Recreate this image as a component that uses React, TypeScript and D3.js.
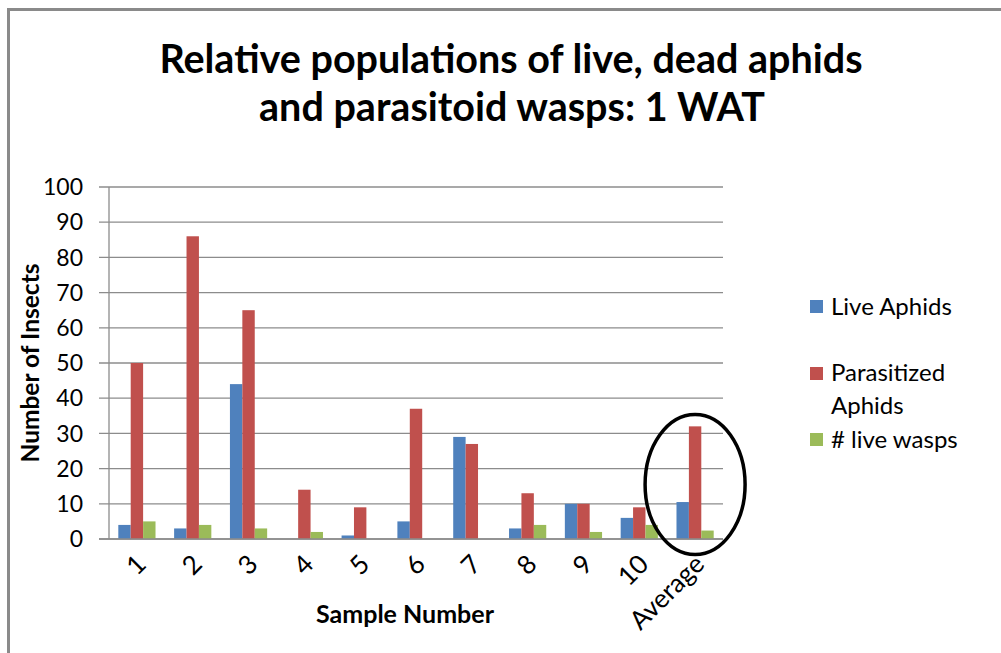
import * as d3 from "d3";

const categories = ["1", "2", "3", "4", "5", "6", "7", "8", "9", "10", "Average"];
const seriesNames = ["Live Aphids", "Parasitized Aphids", "# live wasps"];
const liveAphids = [4, 3, 44, 0, 1, 5, 29, 3, 10, 6, 10.5];
const parasitizedAphids = [50, 86, 65, 14, 9, 37, 27, 13, 10, 9, 32];
const liveWasps = [5, 4, 3, 2, 0, 0, 0, 4, 2, 4, 2.4];
const yTicks = [0, 10, 20, 30, 40, 50, 60, 70, 80, 90, 100];
const colors = ["#4F81BD", "#C0504D", "#9BBB59"];

const W = 1001;
const H = 653;
const font = "Lato, 'Open Sans', sans-serif";

export default function App() {
  const values = [liveAphids, parasitizedAphids, liveWasps];

  const x = d3.scaleBand<string>().domain(categories).range([109, 723]);
  const xs = d3
    .scaleBand<string>()
    .domain(seriesNames)
    .range([0, x.bandwidth()])
    .paddingOuter(0.75);
  const y = d3.scaleLinear().domain([0, 100]).range([539, 187]);

  // highlight ring around the Average group
  const avgX = (x("Average") ?? 0) + x.bandwidth() / 2;
  const avgY = y(15.5);

  return (
    <svg
      width={W}
      height={H}
      style={{ position: "absolute", left: 0, top: 0, background: "#fff" }}
      fontFamily={font}
    >
      <path d={`M8.5,${H} L8.5,9.5 L${W},9.5`} fill="none" stroke="#8a8a8a" strokeWidth={3} />

      <text x={511} y={73} textAnchor="middle" fontSize={39.5} fontWeight="bold" fill="#000">
        Relative populations of live, dead aphids
      </text>
      <text x={512} y={121} textAnchor="middle" fontSize={39.5} fontWeight="bold" fill="#000">
        and parasitoid wasps: 1 WAT
      </text>

      {/* gridlines + y ticks */}
      {yTicks.map((t) => (
        <g key={t}>
          <line x1={99} x2={723} y1={y(t)} y2={y(t)} stroke="#8c8c8c" strokeWidth={1.3} />
          <text x={83} y={y(t)} dy="0.36em" textAnchor="end" fontSize={23} fill="#000">
            {t}
          </text>
        </g>
      ))}
      <line x1={109} x2={109} y1={y(100)} y2={y(0)} stroke="#8c8c8c" strokeWidth={1.3} />

      {/* bars */}
      {categories.map((c, i) => (
        <g key={c} transform={`translate(${x(c)},0)`}>
          {seriesNames.map((s, j) => (
            <rect
              key={s}
              x={xs(s)}
              y={y(values[j][i])}
              width={xs.bandwidth()}
              height={y(0) - y(values[j][i])}
              fill={colors[j]}
            />
          ))}
        </g>
      ))}
      <line x1={99} x2={723} y1={y(0)} y2={y(0)} stroke="#8c8c8c" strokeWidth={1.3} />

      {/* x labels */}
      {categories.map((c) => {
        const cx = (x(c) ?? 0) + x.bandwidth() / 2 - 2;
        return (
          <text
            key={c}
            transform={`translate(${cx},553) rotate(-45)`}
            textAnchor="end"
            dy="0.7em"
            fontSize={26}
            fill="#000"
          >
            {c}
          </text>
        );
      })}

      <text x={405} y={623} textAnchor="middle" fontSize={25} fontWeight="bold" fill="#000">
        Sample Number
      </text>
      <text
        transform="translate(39,363) rotate(-90)"
        textAnchor="middle"
        fontSize={24.5}
        fontWeight="bold"
        fill="#000"
      >
        Number of Insects
      </text>

      <ellipse cx={avgX} cy={avgY} rx={50} ry={70} fill="none" stroke="#000" strokeWidth={3.5} />

      {/* legend */}
      <g fontSize={24} fill="#000">
        <rect x={810} y={300} width={13} height={13} fill={colors[0]} />
        <text x={831} y={306.5} dy="0.35em">Live Aphids</text>
        <rect x={810} y={367} width={13} height={13} fill={colors[1]} />
        <text x={831} y={373} dy="0.35em">Parasitized</text>
        <text x={831} y={406} dy="0.35em">Aphids</text>
        <rect x={810} y={433} width={13} height={13} fill={colors[2]} />
        <text x={831} y={439.5} dy="0.35em"># live wasps</text>
      </g>
    </svg>
  );
}
